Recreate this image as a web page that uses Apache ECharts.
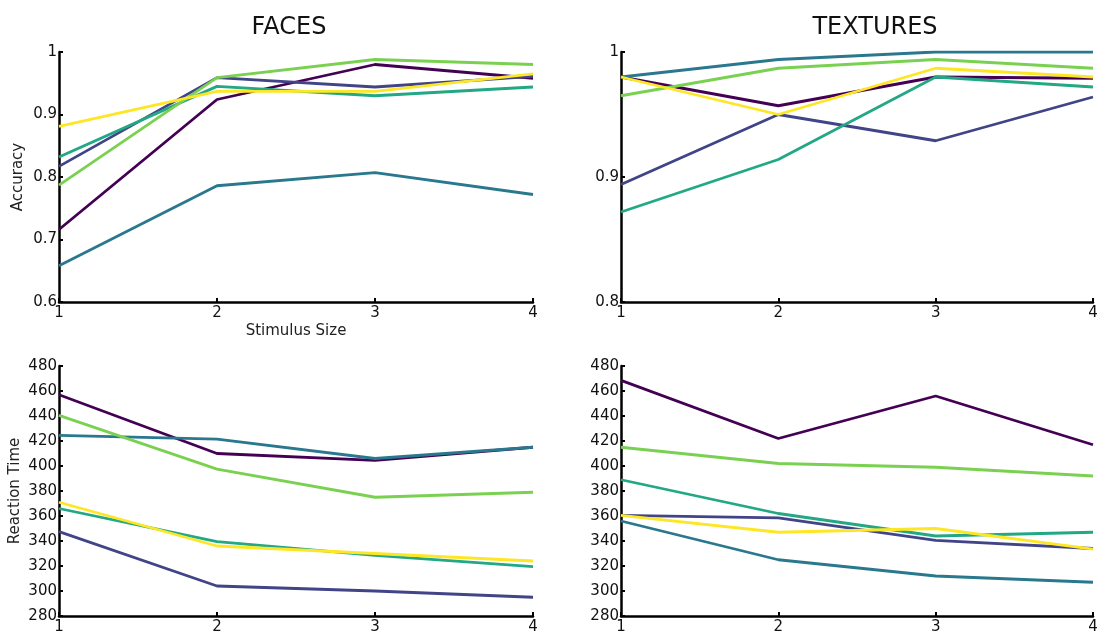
<!DOCTYPE html>
<html>
<head>
<meta charset="utf-8">
<script src="https://cdn.jsdelivr.net/npm/echarts@6/dist/echarts.min.js"></script>
<style>
html,body{margin:0;padding:0;background:#fff;}
#chart{width:1102px;height:635px;}
</style>
</head>
<body>
<div id="chart"></div>
<script>
// Stimulus sizes (x values)
const stimulusSizes = [1, 2, 3, 4];

// Series names / colors (six subjects, viridis-like)
const seriesNames = ['S1', 'S2', 'S3', 'S4', 'S5', 'S6'];
const seriesColors = ['#440154', '#414487', '#2a788e', '#22a884', '#7ad151', '#fde725'];

// FACES accuracy
const facesAcc = [
  [0.716, 0.924, 0.980, 0.958],
  [0.817, 0.959, 0.944, 0.961],
  [0.658, 0.786, 0.807, 0.772],
  [0.832, 0.945, 0.930, 0.944],
  [0.787, 0.959, 0.988, 0.980],
  [0.881, 0.937, 0.937, 0.965]
];

// TEXTURES accuracy
const texturesAcc = [
  [0.980, 0.957, 0.980, 0.979],
  [0.894, 0.950, 0.929, 0.964],
  [0.980, 0.994, 1.000, 1.000],
  [0.872, 0.914, 0.980, 0.972],
  [0.965, 0.987, 0.994, 0.987],
  [0.980, 0.950, 0.987, 0.980]
];

// FACES reaction time
const facesRT = [
  [457, 410, 404.5, 415],
  [347.5, 304, 300, 295],
  [424.5, 421.5, 406, 415],
  [366, 339.5, 328.5, 319.5],
  [440.5, 397.5, 375, 379],
  [371, 336, 330, 324]
];

// TEXTURES reaction time
const texturesRT = [
  [468.5, 422, 456, 417],
  [360.5, 358.5, 340.5, 334],
  [356, 325, 312, 307],
  [389, 362, 344, 347],
  [415, 402, 399, 392],
  [360.5, 347, 350, 333.5]
];

const panelTitles = ['FACES', 'TEXTURES'];
const accTicksFaces = {min: 0.6, max: 1, interval: 0.1};
const accTicksTextures = {min: 0.8, max: 1, interval: 0.1};
const rtTicks = {min: 280, max: 480, interval: 20};

const FONT = 'DejaVu Sans';
const chart = echarts.init(document.getElementById('chart'), null, {renderer: 'canvas'});

const grids = [
  {left: 59, top: 52, width: 474, height: 250},
  {left: 621, top: 52, width: 472, height: 250},
  {left: 59, top: 366, width: 474, height: 251},
  {left: 621, top: 366, width: 472, height: 251}
];

const axisLineStyle = {show: true, lineStyle: {color: '#000', width: 2.5}};
const axisTick = {show: true, inside: true, length: 4, lineStyle: {color: '#000', width: 2}};
const labelStyle = {color: '#111', fontFamily: FONT, fontSize: 15};

function xAxisFor(i, name) {
  return {
    type: 'value', gridIndex: i, min: 1, max: 4, interval: 1,
    axisLine: axisLineStyle, axisTick: axisTick,
    axisLabel: Object.assign({margin: 4}, labelStyle),
    splitLine: {show: false},
    name: name || '', nameLocation: 'middle', nameGap: 22,
    nameTextStyle: {color: '#222', fontFamily: FONT, fontSize: 15}
  };
}
function yAxisFor(i, t, name, gap) {
  return {
    type: 'value', gridIndex: i, min: t.min, max: t.max, interval: t.interval,
    axisLine: axisLineStyle, axisTick: axisTick,
    axisLabel: Object.assign({margin: 2}, labelStyle),
    splitLine: {show: false},
    name: name || '', nameLocation: 'middle', nameGap: gap || 40,
    nameTextStyle: {color: '#222', fontFamily: FONT, fontSize: 15}
  };
}

const datasets = [facesAcc, texturesAcc, facesRT, texturesRT];
const series = [];
datasets.forEach((ds, gi) => {
  ds.forEach((vals, si) => {
    series.push({
      type: 'line', name: seriesNames[si], xAxisIndex: gi, yAxisIndex: gi,
      data: stimulusSizes.map((x, k) => [x, vals[k]]),
      showSymbol: false, symbol: 'none',
      lineStyle: {color: seriesColors[si], width: 2.8},
      itemStyle: {color: seriesColors[si]},
      z: 2 + si, animation: false
    });
  });
});

chart.setOption({
  backgroundColor: '#fff',
  animation: false,
  title: [
    {text: panelTitles[0], left: 284, top: 11, textAlign: 'center',
     textStyle: {fontFamily: FONT, fontSize: 24, fontWeight: 'normal', color: '#111'}},
    {text: panelTitles[1], left: 870, top: 11, textAlign: 'center',
     textStyle: {fontFamily: FONT, fontSize: 24, fontWeight: 'normal', color: '#111'}}
  ],
  grid: grids,
  xAxis: [xAxisFor(0, 'Stimulus Size'), xAxisFor(1), xAxisFor(2), xAxisFor(3)],
  yAxis: [
    yAxisFor(0, accTicksFaces, 'Accuracy', 33),
    yAxisFor(1, accTicksTextures),
    yAxisFor(2, rtTicks, 'Reaction Time', 36),
    yAxisFor(3, rtTicks)
  ],
  series: series
});
</script>
</body>
</html>
